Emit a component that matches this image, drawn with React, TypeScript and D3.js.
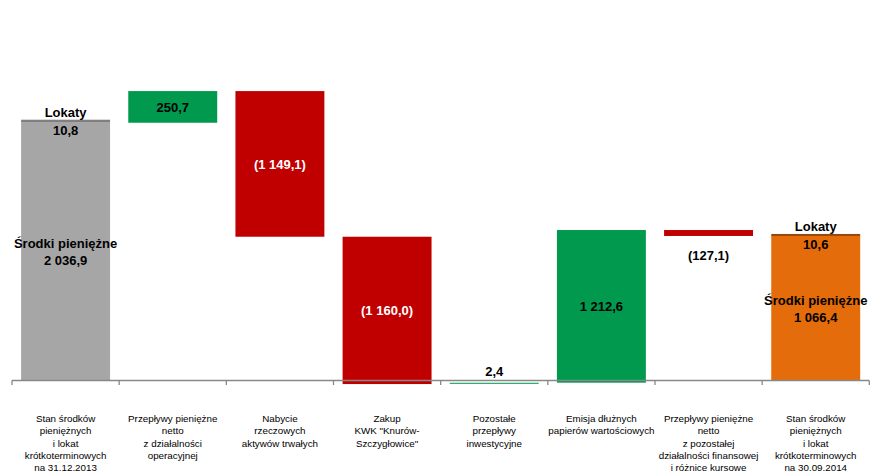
import React from "react";
import * as d3 from "d3";

// Category labels (multi-line, as in the source)
const categories: string[][] = [
  ["Stan środków", "pieniężnych", "i lokat", "krótkoterminowych", "na 31.12.2013"],
  ["Przepływy pieniężne", "netto", "z działalności", "operacyjnej"],
  ["Nabycie", "rzeczowych", "aktywów trwałych"],
  ["Zakup", "KWK \"Knurów-", "Szczygłowice\""],
  ["Pozostałe", "przepływy", "inwestycyjne"],
  ["Emisja dłużnych", "papierów wartościowych"],
  ["Przepływy pieniężne", "netto", "z pozostałej", "działalności finansowej", "i różnice kursowe"],
  ["Stan środków", "pieniężnych", "i lokat", "krótkoterminowych", "na 30.09.2014"],
];

// Bar kinds
const kinds = ["total", "up", "down", "down", "up", "up", "down", "total"];

// Labelled changes (mln PLN)
const changes: (number | null)[] = [null, 250.7, -1149.1, -1160.0, 2.4, 1212.6, -127.1, null];

// Labelled totals: cash and deposits (opening, closing)
const cashValues = [2036.9, 1066.4];
const depositValues = [10.8, 10.6];

// Floating bar extents as drawn in the reference (Excel hidden base + visible series)
const barLow = [0, 2031, 1131, -32, -30, -21, 1137, 0];
const barHigh = [0, 2281, 2281, 1131, -22, 1184, 1184, 0];

// Stacked totals as drawn in the reference
const cashDrawn = [2036.9, 1137];
const depositDrawn = [18, 16];

const COLORS: Record<string, string> = {
  up: "#00994E",
  down: "#C00000",
};
const totalFill = ["#A6A6A6", "#E46C0A"];
const totalTop = ["#7F7F7F", "#984807"];

const locale = d3.formatLocale({
  decimal: ",",
  thousands: " ",
  grouping: [3],
  currency: ["", ""],
});
const fmt = locale.format(",.1f");
const fmtSigned = (v: number) => (v < 0 ? `(${fmt(-v)})` : fmt(v));

const FONT = "'Liberation Sans', Arial, sans-serif";

export default function App() {
  const W = 892;
  const H = 475;
  const x = d3
    .scaleBand<number>()
    .domain(d3.range(categories.length))
    .range([12, 869.3])
    .paddingInner(0.17)
    .paddingOuter(0.085);
  const y = d3.scaleLinear().domain([0, 3000]).range([380, 0]);
  const bw = x.bandwidth();
  const step = x.step();
  const axisStart = 12;
  const ticks = d3.range(categories.length + 1).map((i) => axisStart + i * step);

  const totalIdx = [0, categories.length - 1];

  return (
    <svg
      width={W}
      height={H}
      style={{ position: "absolute", left: 0, top: 0, background: "#fff" }}
      fontFamily={FONT}
    >
      <rect x={0} y={0} width={W} height={H} fill="#fff" />
      {/* floating bars */}
      {changes.map((c, i) => {
        if (c === null) return null;
        const top = y(barHigh[i]);
        const bot = y(barLow[i]);
        return (
          <rect
            key={"b" + i}
            x={x(i)}
            y={top}
            width={bw}
            height={Math.max(1, bot - top)}
            fill={COLORS[kinds[i]]}
          />
        );
      })}
      {/* total bars */}
      {totalIdx.map((ci, k) => {
        const cashTop = y(cashDrawn[k]);
        const depTop = y(cashDrawn[k] + depositDrawn[k]);
        return (
          <g key={"t" + k}>
            <rect x={x(ci)} y={cashTop} width={bw} height={y(0) - cashTop} fill={totalFill[k]} />
            <rect x={x(ci)} y={depTop} width={bw} height={cashTop - depTop} fill={totalTop[k]} />
          </g>
        );
      })}
      {/* axis */}
      <line x1={axisStart} x2={ticks[ticks.length - 1]} y1={380.5} y2={380.5} stroke="#888" strokeWidth={1.5} />
      {ticks.map((t, i) => (
        <line key={"tk" + i} x1={t} x2={t} y1={380.5} y2={385} stroke="#888" strokeWidth={1.3} />
      ))}
      {/* change labels */}
      {changes.map((c, i) => {
        if (c === null) return null;
        const top = y(barHigh[i]);
        const bot = y(barLow[i]);
        const cx = (x(i) as number) + bw / 2;
        const h = bot - top;
        let ty: number;
        let color = "#000";
        if (h < 20) {
          ty = c >= 0 ? top - 7 : bot + 24;
        } else {
          ty = (top + bot) / 2 + 4.6;
          if (c < 0) color = "#fff";
        }
        return (
          <text key={"l" + i} x={cx} y={ty} textAnchor="middle" fontSize={13} fontWeight="bold" fill={color}>
            {fmtSigned(c)}
          </text>
        );
      })}
      {/* total labels */}
      {totalIdx.map((ci, k) => {
        const cx = (x(ci) as number) + bw / 2;
        const top = y(cashDrawn[k] + depositDrawn[k]);
        const mid = (top + y(0)) / 2;
        return (
          <g key={"tl" + k} fontSize={13} fontWeight="bold" fill="#000" textAnchor="middle">
            <text x={cx} y={top - 3}>Lokaty</text>
            <text x={cx} y={top + 15.5}>{fmt(depositValues[k])}</text>
            <text x={cx} y={mid - 2}>Środki pieniężne</text>
            <text x={cx} y={mid + 15.5}>{fmt(cashValues[k])}</text>
          </g>
        );
      })}
      {/* category labels */}
      {categories.map((lines, i) => {
        const cx = axisStart + i * step + step / 2;
        return (
          <text key={"c" + i} x={cx} y={422} textAnchor="middle" fontSize={9.8} fill="#000">
            {lines.map((ln, j) => (
              <tspan key={j} x={cx} y={422 + j * 12.3}>
                {ln}
              </tspan>
            ))}
          </text>
        );
      })}
    </svg>
  );
}
